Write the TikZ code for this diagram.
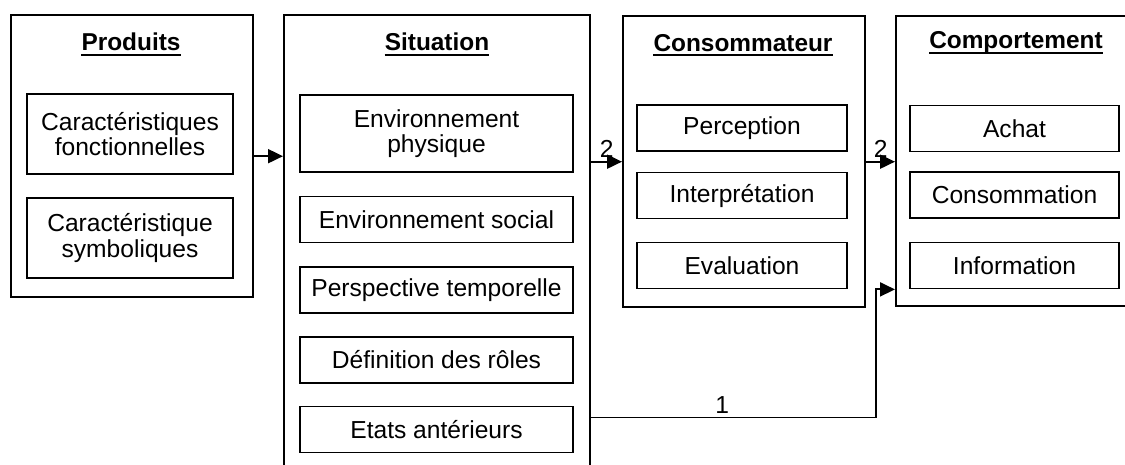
\documentclass[tikz,border=0pt]{standalone}
\usepackage{fontspec}
\setmainfont{Liberation Sans}
\usetikzlibrary{arrows.meta,calc}
\begin{document}
\begin{tikzpicture}[x=1pt,y=-1pt,
  outer/.style={draw,line width=2.4pt,anchor=north west,inner sep=0pt},
  item/.style={draw,line width=1.8pt,align=center,inner sep=0pt,
    font=\fontsize{24.6}{25.5}\selectfont},
  title/.style={font=\fontsize{24.4}{26}\selectfont\bfseries,inner sep=0pt},
  uline/.style={line width=1.8pt},
  link/.style={line width=1.9pt,-{Triangle[length=15pt,width=14pt]}},
  num/.style={font=\fontsize{24.6}{26}\selectfont,inner sep=3pt}]
\useasboundingbox (0,0) rectangle (1125,465);

% outer frames
\node[outer,minimum width=242pt,minimum height=282pt] (prod) at (10,14) {};
\node[outer,minimum width=306pt,minimum height=462pt] (sit) at (283,14) {};
\node[outer,minimum width=242pt,minimum height=291pt] (cons) at (622,15) {};
\node[outer,minimum width=242pt,minimum height=290pt] (comp) at (895,15) {};

% underlined titles
\node[title] (tprod) at (131,42) {Produits};
\node[title] (tsit) at (437,42) {Situation};
\node[title] (tcons) at (743,43) {Consommateur};
\node[title] (tcomp) at (1016,43) {Comportement};
\foreach \t in {tprod,tsit,tcons,tcomp}
  \draw[uline] ($(\t.base west)+(0,4)$) -- ($(\t.base east)+(0,4)$);

% Produits
\node[item,minimum width=206pt,minimum height=80pt] (cf) at (130,134) {Caractéristiques\\fonctionnelles};
\node[item,minimum width=206pt,minimum height=80pt] (cs) at (130,238) {Caractéristique\\symboliques};

% Situation
\node[item,minimum width=273pt,minimum height=77pt] (envp) at (436.5,133.5) {Environnement\\physique};
\node[item,minimum width=273pt,minimum height=46pt] (envs) at (436.5,219.5) {Environnement social};
\node[item,minimum width=273pt,minimum height=46pt] (persp) at (436.5,290) {Perspective temporelle};
\node[item,minimum width=273pt,minimum height=46pt] (roles) at (436.5,360) {Définition des rôles};
\node[item,minimum width=273pt,minimum height=46pt] (etats) at (436.5,429.5) {Etats antérieurs};

% Consommateur
\node[item,minimum width=210pt,minimum height=46pt] (perc) at (742,128) {Perception};
\node[item,minimum width=210pt,minimum height=46pt] (interp) at (742,195.5) {Interprétation};
\node[item,minimum width=210pt,minimum height=46pt] (eval) at (742,265.5) {Evaluation};

% Comportement
\node[item,minimum width=209pt,minimum height=46pt] (achat) at (1014.5,128.5) {Achat};
\node[item,minimum width=209pt,minimum height=46pt] (conso) at (1014.5,195) {Consommation};
\node[item,minimum width=209pt,minimum height=46pt] (info) at (1014.5,265.5) {Information};

% connectors
\draw[link] (prod.east) -- (prod.east -| sit.west);
\draw[link] (sit.east |- cons.west) -- node[num,above]{2} (cons.west);
\draw[link] (cons.east) -- node[num,above]{2} (comp.west |- cons.east);
\coordinate (start) at ($(sit.east |- etats.east)+(0,-12)$);
\coordinate (bend) at ($(comp.west |- info.south)+(-19,0)$);
\draw[link] (start) -| node[num,above,pos=0.23]{1} (bend) -- (comp.west |- bend);
\end{tikzpicture}
\end{document}
